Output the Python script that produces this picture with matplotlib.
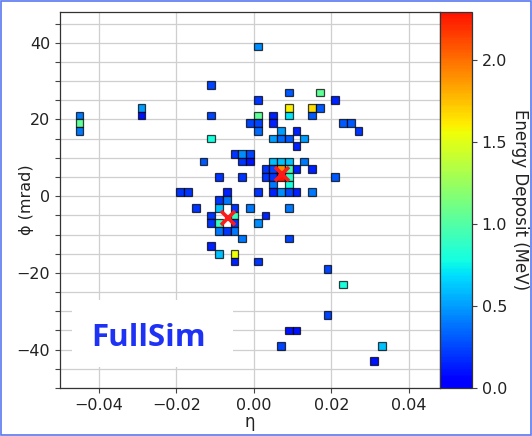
import numpy as np
import matplotlib
matplotlib.use("Agg")
import matplotlib.pyplot as plt
from matplotlib.colors import ListedColormap, Normalize
from matplotlib.cm import ScalarMappable
from matplotlib.patches import Rectangle
from matplotlib.ticker import MultipleLocator

# ---- data: cell centres (eta in units of 1e-3, phi in mrad) and energy (MeV)
cell_eta = [-45, -45, -45, -29, -29,
            1, -11, 9, 17, 1, 21,
            9, 9, 15, 17, 15, -11, 1, 5, 5,
            -1, 1, 1, 23, 25, 27, 7, 11,
            5, 7, 9, 13, 11, -11,
            -5, -3, -1, -3, -1, -13,
            5, 7, 9, 13,
            3, 5, 7, 9, 11, 15,
            3, 5, 7, 9, -9, -3, 21,
            5, 9,
            1, 5, 7, 9, 11, 15, -19, -17, -7,
            -9, -7,
            -15, -9, -5, -1, 9,
            -11, -5, 3,
            -11, -9, -5, 1,
            -9, -7, -5,
            -3, 9, -11, -9, -5, -5, 1,
            19, 23, 19, 9, 11, 7, 33, 31]
cell_phi = [21, 19, 17, 23, 21,
            39, 29, 27, 27, 25, 25,
            23, 21, 23, 23, 21, 21, 21, 21, 19,
            19, 19, 17, 19, 19, 17, 17, 17,
            15, 15, 15, 15, 13, 15,
            11, 11, 11, 9, 9, 9,
            9, 9, 9, 9,
            7, 7, 7, 7, 7, 7,
            5, 5, 5, 5, 5, 5, 5,
            3, 3,
            1, 1, 1, 1, 1, 1, 1, 1, 1,
            -1, -1,
            -3, -3, -3, -3, -3,
            -5, -5, -5,
            -7, -7, -7, -7,
            -9, -9, -9,
            -11, -11, -13, -15, -15, -17, -17,
            -19, -23, -31, -35, -35, -39, -39, -43]
cell_energy = [0.40, 1.05, 0.40, 0.50, 0.10,
               0.45, 0.25, 0.30, 1.05, 0.20, 0.15,
               1.60, 0.70, 1.65, 0.30, 0.30, 0.25, 1.05, 0.15, 0.15,
               0.25, 0.25, 0.35, 0.30, 0.30, 0.20, 0.50, 0.15,
               0.50, 0.35, 0.30, 0.50, 0.15, 0.80,
               0.20, 0.45, 0.25, 0.20, 0.10, 0.30,
               0.60, 0.60, 0.60, 0.40,
               0.20, 0.25, 1.90, 0.95, 0.15, 0.15,
               0.20, 0.20, 2.29, 0.85, 0.20, 0.20, 0.30,
               0.40, 0.80,
               0.20, 0.15, 0.45, 0.25, 0.15, 0.40, 0.20, 0.20, 0.15,
               0.20, 0.40,
               0.20, 0.60, 0.20, 0.40, 0.40,
               0.20, 0.90, 0.15,
               0.20, 0.90, 0.20, 0.45,
               0.40, 0.20, 0.40,
               0.40, 0.25, 0.15, 0.60, 1.55, 0.15, 0.20,
               0.25, 0.80, 0.25, 0.10, 0.10, 0.25, 0.60, 0.10]

# cluster centroids (eta, phi)
centroid_eta = [0.0073, -0.0066]
centroid_phi = [5.7, -5.6]

x_ticks = [-0.04, -0.02, 0.00, 0.02, 0.04]
y_ticks = [-40, -20, 0, 20, 40]
cbar_ticks = [0.0, 0.5, 1.0, 1.5, 2.0]

cell_w = 0.002
cell_h = 2.0
e_max = 2.29

# ---- style
plt.rcParams['font.family'] = ['DejaVu Sans']
cmap = ListedColormap(plt.cm.jet(np.linspace(0.11, 0.89, 256)))
norm = Normalize(vmin=0.0, vmax=e_max)

fig = plt.figure(figsize=(5.32, 4.36), dpi=100)
ax = fig.add_axes([60/532, 48/436, 380/532, 376/436])
cax = fig.add_axes([440/532, 48/436, 32/532, 376/436])

eta = np.array(cell_eta) * 1e-3
phi = np.array(cell_phi, dtype=float)
en = np.array(cell_energy)

ax.bar(eta, cell_h, width=cell_w, bottom=phi - cell_h/2,
       color=cmap(norm(en)), edgecolor=(0, 0, 0, 0.75), linewidth=0.9,
       zorder=3)
ax.plot(centroid_eta, centroid_phi, 'x', color='#ff1a1a', ms=10, mew=2.6,
        zorder=5)

ax.set_xlim(-0.05, 0.048)
ax.set_ylim(-50, 48)
ax.set_xticks(x_ticks)
ax.set_xticklabels([f"{v:.2f}".replace('-', '\u2212') for v in x_ticks])
ax.set_yticks(y_ticks)
ax.set_yticklabels([f"{v}".replace('-', '\u2212') for v in y_ticks])
ax.yaxis.set_minor_locator(MultipleLocator(5))
ax.set_axisbelow(True)
ax.grid(True, which='major', axis='both', color='#cfcfcf', lw=0.9)
ax.grid(True, which='minor', axis='y', color='#cfcfcf', lw=0.9)
ax.tick_params(which='both', direction='out', length=3.5, width=0.8,
               labelsize=11.5, labelcolor='#222222', color='#444444')
for s in ax.spines.values():
    s.set_color('#333333')
    s.set_linewidth(0.9)

ax.set_xlabel('\u03b7', fontsize=12, color='#222222', labelpad=0)
ax.set_ylabel('\u03d5 (mrad)', fontsize=11.5, color='#222222')
ax.yaxis.set_label_coords(-0.068, 0.5)

# label box
ax.add_patch(Rectangle((0.0316, 0.056), 0.424, 0.178, transform=ax.transAxes,
                       facecolor='white', edgecolor='none', zorder=4))
ax.text(0.233, 0.112, 'FullSim', transform=ax.transAxes, ha='center',
        va='baseline', fontsize=22.5, fontweight='bold', family='Open Sans',
        color='#1e32f5', zorder=6)

sm = ScalarMappable(norm=norm, cmap=cmap)
cb = fig.colorbar(sm, cax=cax, ticks=cbar_ticks)
cb.ax.tick_params(labelsize=11.5, labelcolor='#222222', length=3.5,
                  width=0.8, color='#444444')
cb.outline.set_edgecolor('#333333')
cb.outline.set_linewidth(0.9)
cb.set_label('Energy Deposit (MeV)', rotation=270, fontsize=12,
             color='#222222', labelpad=16)

fig.patches.append(Rectangle((0.002, 0.002), 0.996, 0.996,
                             transform=fig.transFigure, fill=False,
                             edgecolor='#5a78f0', lw=1.2))

fig.savefig('out.png', dpi=100)
